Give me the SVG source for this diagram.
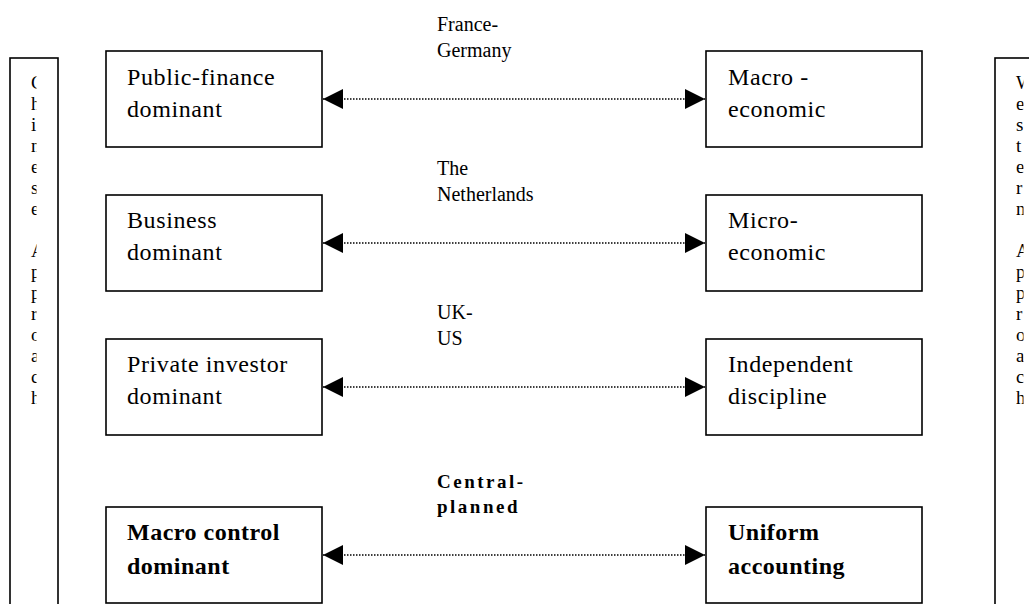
<svg xmlns="http://www.w3.org/2000/svg" width="1029" height="604" viewBox="0 0 1029 604">
<style>
.box{fill:#fff;stroke:#000;stroke-width:1.6}
.t{font-family:"Liberation Serif","Times New Roman",serif;font-size:24px;letter-spacing:0.6px;fill:#000}
.b{font-weight:bold;letter-spacing:0.5px}
.lbl{font-family:"Liberation Serif","Times New Roman",serif;font-size:20px;fill:#000}
.lb{font-weight:bold;font-size:19px;letter-spacing:2.5px}
.v{font-family:"Liberation Serif","Times New Roman",serif;font-size:19px;fill:#000}
.dot{stroke:#000;stroke-width:1.5;stroke-dasharray:1.5 1.5;fill:none}
</style>
<defs>
<marker id="ah" viewBox="0 0 20 20" refX="20" refY="10" markerWidth="20" markerHeight="20" markerUnits="userSpaceOnUse" orient="auto-start-reverse">
<path d="M0,0 L20,10 L0,20 Z" fill="#000"/>
</marker>
<clipPath id="cl"><rect x="10" y="58" width="26.5" height="560"/></clipPath>
<clipPath id="cr"><rect x="995" y="58" width="28.5" height="560"/></clipPath>
</defs>
<rect width="1029" height="604" fill="#fff"/>

<g id="side-left">
<rect class="box" x="10" y="58" width="48" height="560"/>
<g clip-path="url(#cl)" class="v">
<text x="31" y="89">C</text><text x="31" y="110">h</text><text x="31" y="131">i</text><text x="31" y="152">n</text><text x="31" y="173">e</text><text x="31" y="194">s</text><text x="31" y="215">e</text>
<text x="31" y="257">A</text><text x="31" y="278">p</text><text x="31" y="299">p</text><text x="31" y="320">r</text><text x="31" y="341">o</text><text x="31" y="362">a</text><text x="31" y="383">c</text><text x="31" y="404">h</text>
</g>
</g>

<g id="side-right">
<rect class="box" x="995" y="58" width="60" height="560"/>
<g clip-path="url(#cr)" class="v">
<text x="1016" y="89">W</text><text x="1016" y="110">e</text><text x="1016" y="131">s</text><text x="1016" y="152">t</text><text x="1016" y="173">e</text><text x="1016" y="194">r</text><text x="1016" y="215">n</text>
<text x="1016" y="257">A</text><text x="1016" y="278">p</text><text x="1016" y="299">p</text><text x="1016" y="320">r</text><text x="1016" y="341">o</text><text x="1016" y="362">a</text><text x="1016" y="383">c</text><text x="1016" y="404">h</text>
</g>
</g>

<g id="public-finance">
<rect class="box" x="106" y="51" width="216" height="96"/>
<text class="t" x="127" y="85">Public-finance</text>
<text class="t" x="127" y="117">dominant</text>
</g>
<g id="macro-economic">
<rect class="box" x="706" y="51" width="216" height="96"/>
<text class="t" x="728" y="85">Macro -</text>
<text class="t" x="728" y="117">economic</text>
</g>
<g id="business">
<rect class="box" x="106" y="195" width="216" height="96"/>
<text class="t" x="127" y="228">Business</text>
<text class="t" x="127" y="260">dominant</text>
</g>
<g id="micro-economic">
<rect class="box" x="706" y="195" width="216" height="96"/>
<text class="t" x="728" y="228">Micro-</text>
<text class="t" x="728" y="260">economic</text>
</g>
<g id="private-investor">
<rect class="box" x="106" y="339" width="216" height="96"/>
<text class="t" x="127" y="372">Private investor</text>
<text class="t" x="127" y="404">dominant</text>
</g>
<g id="independent">
<rect class="box" x="706" y="339" width="216" height="96"/>
<text class="t" x="728" y="372">Independent</text>
<text class="t" x="728" y="404">discipline</text>
</g>
<g id="macro-control">
<rect class="box" x="106" y="507" width="216" height="96"/>
<text class="t b" x="127" y="540">Macro control</text>
<text class="t b" x="127" y="574">dominant</text>
</g>
<g id="uniform">
<rect class="box" x="706" y="507" width="216" height="96"/>
<text class="t b" x="728" y="540">Uniform</text>
<text class="t b" x="728" y="574">accounting</text>
</g>

<g id="connectors">
<line class="dot" x1="323" y1="99" x2="705" y2="99" marker-start="url(#ah)" marker-end="url(#ah)"/>
<line class="dot" x1="323" y1="243" x2="705" y2="243" marker-start="url(#ah)" marker-end="url(#ah)"/>
<line class="dot" x1="323" y1="387" x2="705" y2="387" marker-start="url(#ah)" marker-end="url(#ah)"/>
<line class="dot" x1="323" y1="555" x2="705" y2="555" marker-start="url(#ah)" marker-end="url(#ah)"/>
<text class="lbl" x="437" y="31">France-</text>
<text class="lbl" x="437" y="57">Germany</text>
<text class="lbl" x="437" y="175">The</text>
<text class="lbl" x="437" y="201">Netherlands</text>
<text class="lbl" x="437" y="319">UK-</text>
<text class="lbl" x="437" y="345">US</text>
<text class="lbl lb" x="437" y="488">Central-</text>
<text class="lbl lb" x="437" y="513">planned</text>
</g>
</svg>
